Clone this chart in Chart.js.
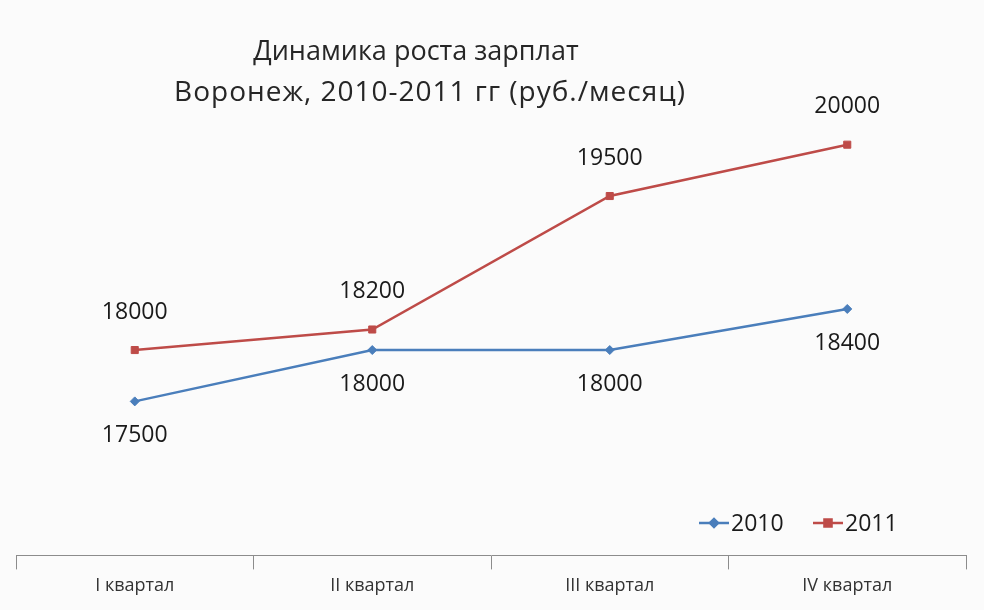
<!DOCTYPE html>
<html><head><meta charset="utf-8">
<script src="https://cdn.jsdelivr.net/npm/chart.js@4/dist/chart.umd.min.js"></script>
<style>html,body{margin:0;padding:0;background:#fbfbfb;}#wrap{width:984px;height:610px;position:relative;}</style>
</head><body><div id="wrap"><canvas id="c" width="984" height="610"></canvas></div>
<script>
const categories = ['I квартал', 'II квартал', 'III квартал', 'IV квартал'];
const series2010 = [17500, 18000, 18000, 18400];
const series2011 = [18000, 18200, 19500, 20000];
const seriesNames = ['2010', '2011'];
const titleLines = ['Динамика роста зарплат', 'Воронеж, 2010-2011 гг (руб./месяц)'];

const BLUE = '#4a7ebb', RED = '#be4b48';

const labelPlugin = {
  id: 'labels',
  afterDatasetsDraw(chart) {
    const ctx = chart.ctx;
    ctx.save();
    ctx.font = '23px "Open Sans", sans-serif';
    ctx.fillStyle = '#1a1a1a';
    ctx.textAlign = 'center';
    ctx.textBaseline = 'middle';
    chart.data.datasets.forEach((ds, i) => {
      const meta = chart.getDatasetMeta(i);
      meta.data.forEach((pt, j) => {
        const off = i === 0 ? 34 : -38;
        ctx.fillText(String(ds.data[j]), pt.x, pt.y + off);
      });
    });
    ctx.restore();
  }
};

const decoPlugin = {
  id: 'deco',
  afterDraw(chart) {
    const ctx = chart.ctx;
    ctx.save();
    // title
    ctx.fillStyle = '#262626';
    ctx.textAlign = 'center';
    ctx.textBaseline = 'middle';
    ctx.font = '27px "Open Sans", sans-serif';
    ctx.fillText(titleLines[0], 416, 52);
    ctx.font = '28px "Open Sans", sans-serif';
    ctx.letterSpacing = '1px';
    ctx.fillText(titleLines[1], 430, 93);
    ctx.letterSpacing = '0px';
    // legend
    const items = [
      {name: seriesNames[0], color: BLUE, style: 'rectRot', r: 4, x: 699},
      {name: seriesNames[1], color: RED, style: 'rect', r: 5, x: 813}
    ];
    const y = 523;
    ctx.font = '23px "Open Sans", sans-serif';
    ctx.textAlign = 'left';
    items.forEach(it => {
      ctx.strokeStyle = it.color;
      ctx.lineWidth = 2.5;
      ctx.beginPath(); ctx.moveTo(it.x, y); ctx.lineTo(it.x + 30, y); ctx.stroke();
      ctx.fillStyle = it.color;
      Chart.helpers.drawPoint(ctx, {pointStyle: it.style, radius: it.r, borderWidth: 1}, it.x + 15, y);
      ctx.fillStyle = '#1a1a1a';
      ctx.fillText(it.name, it.x + 32, y + 1);
    });
    ctx.restore();
  }
};

new Chart(document.getElementById('c'), {
  type: 'line',
  data: {
    labels: categories,
    datasets: [
      {label: seriesNames[0], data: series2010, borderColor: BLUE, backgroundColor: BLUE,
       borderWidth: 2.5, pointStyle: 'rectRot', pointRadius: 4.5, pointBorderWidth: 1, tension: 0},
      {label: seriesNames[1], data: series2011, borderColor: RED, backgroundColor: RED,
       borderWidth: 2.5, pointStyle: 'rect', pointRadius: 5, pointBorderWidth: 1, tension: 0}
    ]
  },
  options: {
    responsive: false,
    animation: false,
    devicePixelRatio: 1,
    layout: {padding: {left: 16, right: 18, top: 42, bottom: 7}},
    plugins: {legend: {display: false}, title: {display: false}, tooltip: {enabled: false}},
    scales: {
      x: {
        offset: true,
        grid: {display: true, drawOnChartArea: false, drawTicks: true, tickLength: 14, color: '#8c8c8c', offset: true},
        border: {display: true, color: '#8c8c8c', width: 1},
        ticks: {color: '#333333', font: {family: '"Open Sans", sans-serif', size: 18}, padding: 6, maxRotation: 0}
      },
      y: {
        display: false,
        min: 16000, max: 21000
      }
    }
  },
  plugins: [labelPlugin, decoPlugin]
});
</script></body></html>
